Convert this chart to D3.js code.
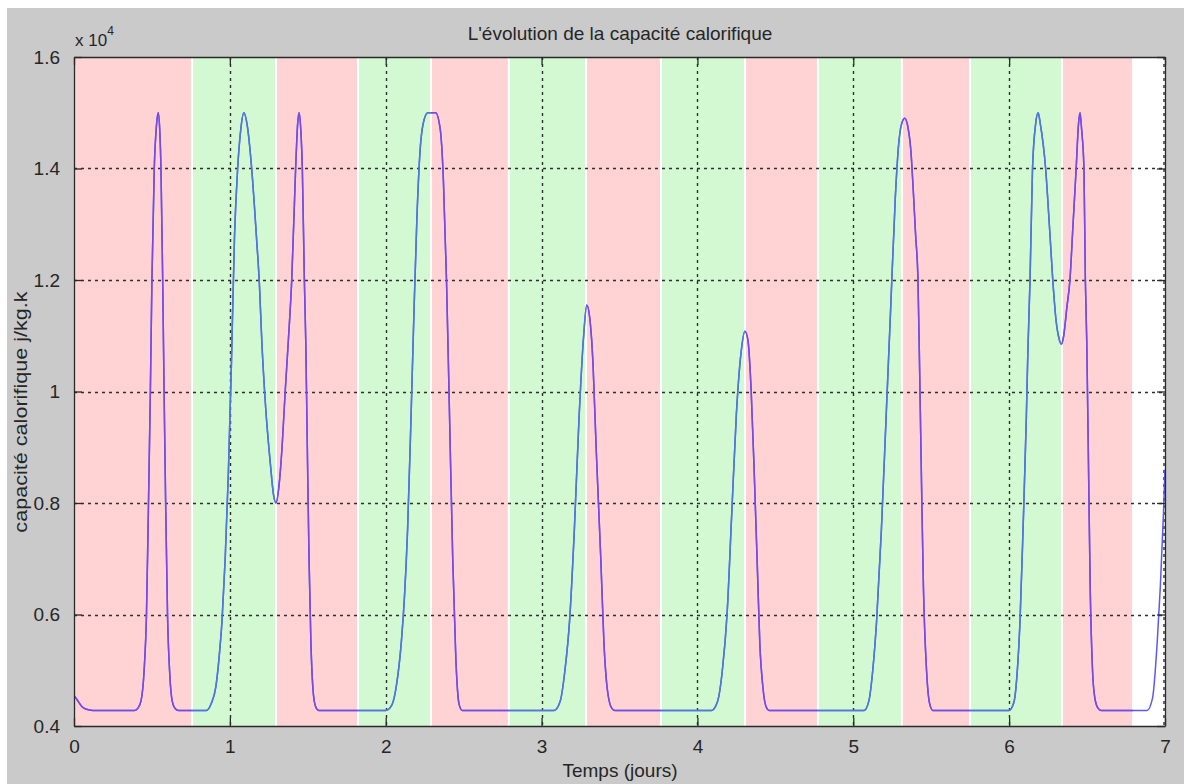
<!DOCTYPE html>
<html>
<head>
<meta charset="utf-8">
<script src="https://cdn.jsdelivr.net/npm/d3@7"></script>
<style>
  html, body { margin: 0; padding: 0; background: #ffffff; }
  svg { display: block; }
  text { font-family: "Liberation Sans", Arial, sans-serif; fill: #262626; }
</style>
</head>
<body>
<svg id="chart" width="1184" height="784"></svg>
<script>
// Heat capacity over one week (J/kg.K), time in days
const timeDays = [
  0, 0.02, 0.05, 0.08, 0.12, 0.39, 0.41, 0.43, 0.45, 0.465, 0.478, 0.49, 0.50, 0.515, 0.53, 0.54,
  0.55, 0.558, 0.569, 0.578, 0.588, 0.60, 0.615, 0.63, 0.65, 0.67,
  0.85, 0.88, 0.91, 0.93, 0.95, 0.97, 0.99, 1.01, 1.03, 1.05, 1.07, 1.09, 1.11, 1.14, 1.17, 1.19,
  1.205, 1.23, 1.26, 1.28, 1.296, 1.315, 1.335, 1.355, 1.375, 1.397, 1.422, 1.435, 1.444, 1.455,
  1.465, 1.478, 1.487, 1.497, 1.508, 1.52, 1.535, 1.55, 1.57,
  2.0, 2.04, 2.07, 2.10, 2.12, 2.14, 2.16, 2.18, 2.20, 2.22, 2.24, 2.27, 2.32, 2.35, 2.37, 2.39, 2.41,
  2.43, 2.45, 2.47, 2.49,
  3.08, 3.12, 3.15, 3.18, 3.21, 3.24, 3.27, 3.29, 3.31, 3.33, 3.35, 3.38, 3.40, 3.42, 3.45, 3.47,
  4.09, 4.13, 4.16, 4.19, 4.22, 4.25, 4.28, 4.305, 4.325, 4.345, 4.365, 4.385, 4.40, 4.42, 4.44, 4.46,
  5.07, 5.10, 5.125, 5.15, 5.18, 5.21, 5.24, 5.27, 5.29, 5.31, 5.33, 5.35, 5.37, 5.385, 5.40, 5.415,
  5.425, 5.44, 5.45, 5.47, 5.49, 5.51,
  6.0, 6.03, 6.05, 6.07, 6.09, 6.11, 6.12, 6.134, 6.15, 6.17, 6.186, 6.20, 6.234, 6.26, 6.28, 6.30, 6.32,
  6.335, 6.35, 6.37, 6.39, 6.41, 6.43, 6.445, 6.455, 6.465, 6.48, 6.489, 6.498, 6.51, 6.52, 6.535,
  6.55, 6.57, 6.59,
  6.885, 6.92, 6.95, 6.97, 6.99, 7.0
];
const heatCapacity = [
  4550, 4470, 4350, 4300, 4280, 4280, 4320, 4450, 5000, 6000, 8000, 10000, 12000, 14000, 14800, 15000,
  14700, 14000, 12000, 10000, 8000, 6000, 4900, 4450, 4310, 4280,
  4280, 4400, 4700, 5200, 5900, 7000, 8500, 10500, 12800, 14000, 14700, 15000, 14800, 14000, 12800, 11900,
  10900, 9700, 8700, 8150, 8000, 8300, 9000, 10000, 10900, 12000, 14000, 14800, 15000, 14700,
  14000, 12000, 10900, 9000, 7000, 5500, 4600, 4350, 4280,
  4280, 4380, 4750, 5500, 6300, 7500, 9300, 11300, 13100, 14300, 14800, 15000, 15000, 14700, 13800, 12000, 9500,
  7000, 5200, 4400, 4280,
  4280, 4450, 5000, 5900, 7500, 9500, 11000, 11550, 11300, 10500, 9000, 7000, 5500, 4700, 4320, 4280,
  4280, 4450, 5000, 6000, 7800, 9600, 10700, 11080, 10900, 10000, 8500, 6800, 5500, 4700, 4350, 4280,
  4280, 4450, 5000, 5900, 7500, 9500, 11500, 13500, 14400, 14800, 14900, 14750, 14300, 13600, 12800, 12000,
  10500, 8000, 6500, 5000, 4400, 4280,
  4280, 4420, 4900, 5900, 7600, 9500, 10700, 12000, 14000, 14800, 15000, 14800, 14000, 12900, 12000, 11300, 10950,
  10850, 11000, 11500, 12000, 13000, 14000, 14800, 15000, 14700, 14000, 12000, 10900, 8500, 6500, 5000,
  4500, 4320, 4280,
  4280, 4500, 5500, 6500, 7800, 8600
];

// Shaded periods (days)
const redStart   = [0, 1.296, 2.29, 3.285, 4.305, 5.312, 6.339];
const redEnd     = [0.757, 1.822, 2.79, 3.766, 4.773, 5.749, 6.795];
const greenStart = [0.757, 1.822, 2.79, 3.766, 4.773, 5.749];
const greenEnd   = [1.296, 2.29, 3.285, 4.305, 5.312, 6.339];

// Axis ticks
const xTicks = [0, 1, 2, 3, 4, 5, 6, 7];
const xTickLabels = ["0", "1", "2", "3", "4", "5", "6", "7"];
const yTicks = [4000, 6000, 8000, 10000, 12000, 14000, 16000];
const yTickLabels = ["0.4", "0.6", "0.8", "1", "1.2", "1.4", "1.6"];

const titleText = "L'évolution de la capacité calorifique";
const xLabelText = "Temps (jours)";
const yLabelText = "capacité calorifique j/kg.k";

const svg = d3.select("#chart");
const W = 1184, H = 784;
const plot = { left: 74, right: 1165, top: 57, bottom: 726 };

// Figure background
svg.append("rect").attr("x", 7).attr("y", 8).attr("width", W - 7).attr("height", H - 8)
  .attr("fill", "#cacaca");

const x = d3.scaleLinear().domain([0, 7]).range([plot.left, plot.right]);
const y = d3.scaleLinear().domain([4000, 16000]).range([plot.bottom, plot.top]);

// Axes area
svg.append("rect").attr("x", plot.left).attr("y", plot.top)
  .attr("width", plot.right - plot.left).attr("height", plot.bottom - plot.top)
  .attr("fill", "#ffffff");

const redBands = redStart.map((s, i) => ({ s, e: redEnd[i] }));
const greenBands = greenStart.map((s, i) => ({ s, e: greenEnd[i] }));

function bandRects(sel, data, color) {
  sel.selectAll(null).data(data).join("rect")
    .attr("x", d => x(d.s) + (d.s === 0 ? 0 : 1))
    .attr("y", plot.top)
    .attr("width", d => x(d.e) - x(d.s) - (d.s === 0 ? 1 : 2))
    .attr("height", plot.bottom - plot.top)
    .attr("fill", color);
}
bandRects(svg.append("g"), redBands, "#ffd3d3");
bandRects(svg.append("g"), greenBands, "#d2f9d2");

// Grid (dotted)
const grid = svg.append("g").attr("stroke", "#2e2e2e").attr("stroke-width", 1.4)
  .attr("stroke-dasharray", "3,4");
grid.selectAll(null).data(xTicks.slice(1, -1)).join("line")
  .attr("x1", d => Math.round(x(d)) + 0.5).attr("x2", d => Math.round(x(d)) + 0.5)
  .attr("y1", plot.top).attr("y2", plot.bottom);
grid.selectAll(null).data(yTicks.slice(1, -1)).join("line")
  .attr("y1", d => Math.round(y(d)) + 0.5).attr("y2", d => Math.round(y(d)) + 0.5)
  .attr("x1", plot.left).attr("x2", plot.right);
grid.append("line")
  .attr("x1", plot.right - 1).attr("x2", plot.right - 1)
  .attr("y1", plot.top).attr("y2", plot.bottom);

// Curve, tinted per shaded period
const pts = timeDays.map((t, i) => [t, heatCapacity[i]]);
const line = d3.line().x(d => x(d[0])).y(d => y(d[1])).curve(d3.curveMonotoneX);

const defs = svg.append("defs");
function clipFor(id, data) {
  defs.append("clipPath").attr("id", id).selectAll("rect").data(data).join("rect")
    .attr("x", d => x(d.s)).attr("y", plot.top - 5)
    .attr("width", d => x(d.e) - x(d.s)).attr("height", plot.bottom - plot.top + 10);
}
clipFor("clip-red", redBands);
clipFor("clip-green", greenBands);
defs.append("clipPath").attr("id", "clip-plot").append("rect")
  .attr("x", plot.left).attr("y", plot.top)
  .attr("width", plot.right - plot.left).attr("height", plot.bottom - plot.top);

const lineG = svg.append("g").attr("clip-path", "url(#clip-plot)");
lineG.append("path").datum(pts).attr("d", line)
  .attr("fill", "none").attr("stroke", "#5a5af0").attr("stroke-width", 1.5);
lineG.append("path").datum(pts).attr("d", line).attr("clip-path", "url(#clip-red)")
  .attr("fill", "none").attr("stroke", "#7a48e6").attr("stroke-width", 1.5);
lineG.append("path").datum(pts).attr("d", line).attr("clip-path", "url(#clip-green)")
  .attr("fill", "none").attr("stroke", "#4c7ad8").attr("stroke-width", 1.5);

// Axes with inward ticks on all four sides
const tickLen = 8;
const axisColor = "#2a2a2a";
const xAxisB = d3.axisBottom(x).tickValues(xTicks).tickSizeInner(-tickLen).tickSizeOuter(0)
  .tickFormat((d, i) => xTickLabels[i]).tickPadding(tickLen + 6);
const xAxisT = d3.axisTop(x).tickValues(xTicks).tickSizeInner(-tickLen).tickSizeOuter(0)
  .tickFormat("");
const yAxisL = d3.axisLeft(y).tickValues(yTicks).tickSizeInner(-tickLen).tickSizeOuter(0)
  .tickFormat((d, i) => yTickLabels[i]).tickPadding(tickLen + 6);
const yAxisR = d3.axisRight(y).tickValues(yTicks).tickSizeInner(-tickLen).tickSizeOuter(0)
  .tickFormat("");

function styleAxis(g) {
  g.select(".domain").attr("stroke", axisColor).attr("stroke-width", 1.3);
  g.selectAll(".tick line").attr("stroke", axisColor).attr("stroke-width", 1.3);
  g.selectAll(".tick text").attr("fill", "#262626")
    .style("font-family", "'Liberation Sans', Arial, sans-serif").style("font-size", "19px");
}
svg.append("g").attr("transform", `translate(0,${plot.bottom})`).call(xAxisB).call(styleAxis);
svg.append("g").attr("transform", `translate(0,${plot.top})`).call(xAxisT).call(styleAxis);
svg.append("g").attr("transform", `translate(${plot.left},0)`).call(yAxisL).call(styleAxis);
svg.append("g").attr("transform", `translate(${plot.right},0)`).call(yAxisR).call(styleAxis);

// Exponent marker
const expo = svg.append("text").attr("x", plot.left + 1).attr("y", 46)
  .style("font-size", "17px");
expo.append("tspan").text("x 10");
expo.append("tspan").attr("dy", -11).style("font-size", "12px").text("4");

// Title and axis labels
svg.append("text").attr("x", 620).attr("y", 40).attr("text-anchor", "middle")
  .style("font-size", "19px").text(titleText);
svg.append("text").attr("x", 620).attr("y", 777).attr("text-anchor", "middle")
  .style("font-size", "19px").text(xLabelText);
svg.append("text")
  .attr("transform", "translate(27,412) scale(1,1.2) rotate(-90)")
  .attr("text-anchor", "middle")
  .style("font-size", "18px").text(yLabelText);
</script>
</body>
</html>
